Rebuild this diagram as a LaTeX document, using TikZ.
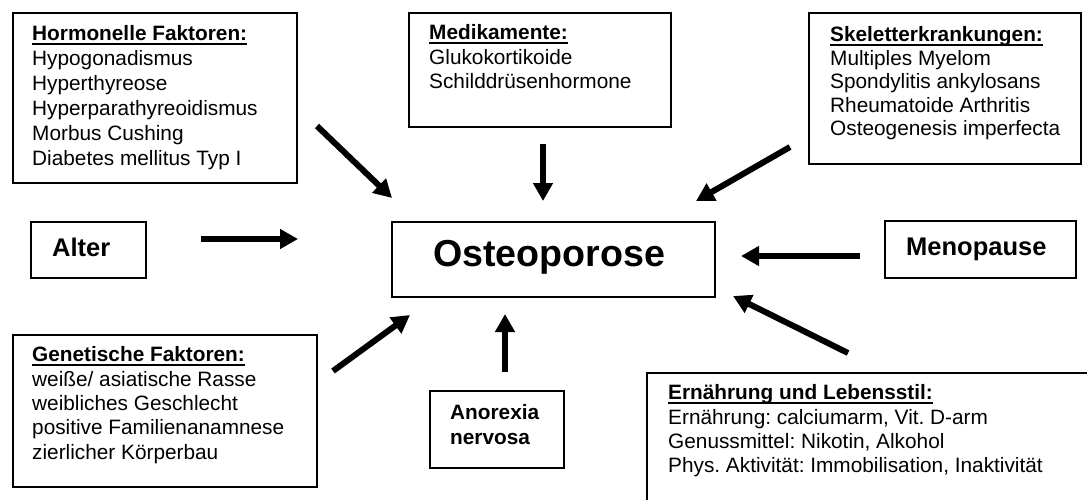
\documentclass[tikz,border=0pt]{standalone}
\usepackage{fontspec}
\setmainfont{Liberation Sans}
\usetikzlibrary{arrows.meta}
\frenchspacing
\newsavebox\myulbox
\newcommand{\myul}[1]{\sbox\myulbox{#1}\rlap{\rule[-4pt]{\wd\myulbox}{2pt}}\usebox\myulbox}
\begin{document}
\begin{tikzpicture}[x=1pt,y=-1pt,
  box/.style={draw=black,line width=1.6pt,inner sep=0pt,anchor=north west},
  txt/.style={anchor=north west,inner sep=0pt,align=left,font=\frenchspacing\fontsize{20.8}{24.5}\selectfont},
  btxt/.style={anchor=north west,inner sep=0pt,align=left,font=\bfseries\fontsize{20.8}{25}\selectfont},
  big/.style={inner sep=0pt,anchor=base west,font=\bfseries\fontsize{25.5}{30}\selectfont},
  arr/.style={line width=6pt,-{Triangle[length=18pt,width=19pt]}}]
\useasboundingbox (0,0) rectangle (1087,500);
\clip (0,0) rectangle (1087,500);

% boxes
\node[box,minimum width=284pt,minimum height=170pt] (hormB) at (12,12) {};
\node[box,minimum width=262pt,minimum height=114pt] (mediB) at (408,12) {};
\node[box,minimum width=272pt,minimum height=151pt] (skelB) at (808,12) {};
\node[box,minimum width=115pt,minimum height=56pt] (alterB) at (30,221) {};
\node[box,minimum width=323pt,minimum height=75pt] (osteo) at (391,221) {};
\node[box,minimum width=191pt,minimum height=57pt] (menoB) at (884,220) {};
\node[box,minimum width=304pt,minimum height=152pt] (genB) at (12,334) {};
\node[box,minimum width=134pt,minimum height=77pt] (anoB) at (429,390) {};
\node[box,minimum width=470pt,minimum height=160pt] (ernB) at (646,372) {};

% texts
\node[txt,font=\frenchspacing\fontsize{20.8}{25}\selectfont] (hormT) at (32,25.5) {\textbf{\myul{Hormonelle Faktoren:}}\\Hypogonadismus\\Hyperthyreose\\Hyperparathyreoidismus\\Morbus Cushing\\Diabetes mellitus Typ I};
\node[txt] (mediT) at (429,24.7) {\textbf{\myul{Medikamente:}}\\Glukokortikoide\\Schilddrüsenhormone};
\node[txt,font=\frenchspacing\fontsize{20.8}{23.5}\selectfont] (skelT) at (830,26.7) {\textbf{\myul{Skeletterkrankungen:}}\\Multiples Myelom\\Spondylitis ankylosans\\Rheumatoide Arthritis\\Osteogenesis imperfecta};
\node[txt,font=\frenchspacing\fontsize{20.8}{24.3}\selectfont] (genT) at (32,346.7) {\textbf{\myul{Genetische Faktoren:}}\\weiße/ asiatische Rasse\\weibliches Geschlecht\\positive Familienanamnese\\zierlicher Körperbau};
\node[txt,font=\frenchspacing\fontsize{20.8}{24.3}\selectfont] (ernT) at (668,384.7) {\textbf{\myul{Ernährung und Lebensstil:}}\\Ernährung: calciumarm, Vit. D-arm\\Genussmittel: Nikotin, Alkohol\\Phys. Aktivität: Immobilisation, Inaktivität};
\node[btxt] (anoT) at (450,404.7) {Anorexia\\nervosa};
\node[big] (alterT) at (52,256) {Alter};
\node[big] (menoT) at (906,255) {Menopause};
\node[inner sep=0pt,anchor=base,font=\bfseries\fontsize{37.6}{42}\selectfont] (osteoT) at (549,266) {Osteoporose};

% arrow end points
\coordinate (a1s) at (317,126); \coordinate (a1e) at (392,198);
\coordinate (a2s) at (543,144); \coordinate (a2e) at (543,201);
\coordinate (a3s) at (790,147); \coordinate (a3e) at (696,201);
\coordinate (a4s) at (201,239); \coordinate (a4e) at (298,239);
\coordinate (a5s) at (860,256); \coordinate (a5e) at (741,256);
\coordinate (a6s) at (848,353); \coordinate (a6e) at (733,296);
\coordinate (a7s) at (333,371); \coordinate (a7e) at (410,315);
\coordinate (a8s) at (505,372); \coordinate (a8e) at (505,314);

\draw[arr] (a1s) -- (a1e);
\draw[arr] (a2s) -- (a2e);
\draw[arr] (a3s) -- (a3e);
\draw[arr] (a4s) -- (a4e);
\draw[arr] (a5s) -- (a5e);
\draw[arr] (a6s) -- (a6e);
\draw[arr] (a7s) -- (a7e);
\draw[arr] (a8s) -- (a8e);
\end{tikzpicture}
\end{document}
